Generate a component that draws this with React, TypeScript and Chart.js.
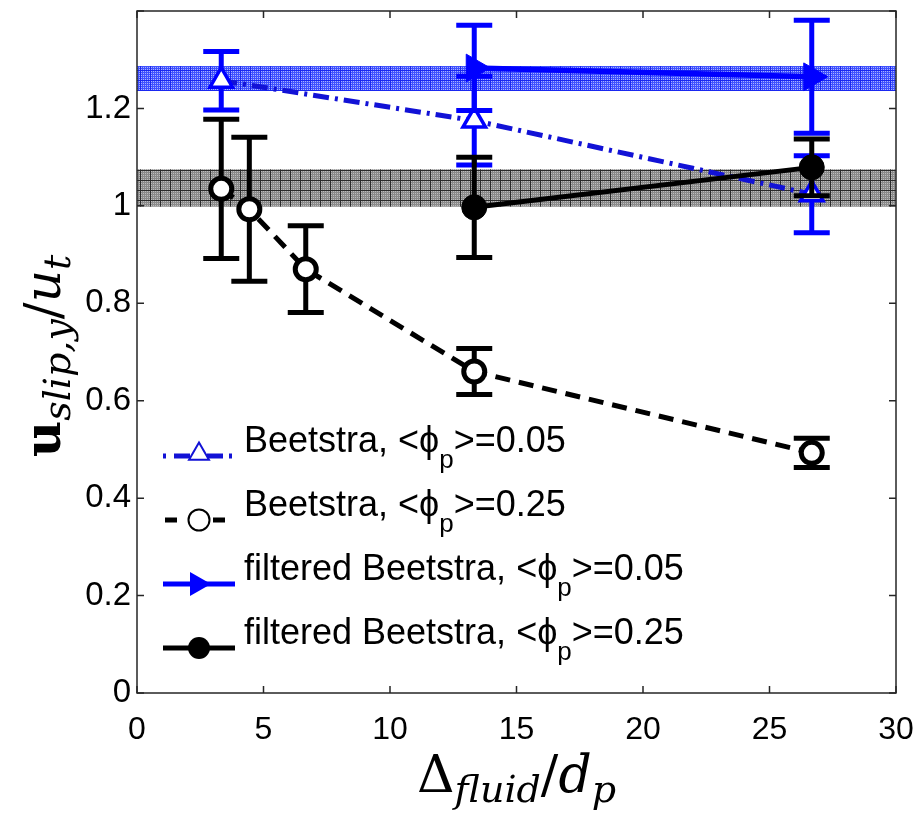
import React, { useEffect, useRef } from 'react';
import { Chart, registerables } from 'chart.js';

Chart.register(...registerables);

// ---- data ----
const xTicks = [0, 5, 10, 15, 20, 25, 30];
const yTicks = [0, 0.2, 0.4, 0.6, 0.8, 1, 1.2, 1.4];

const xB05 = [3.33, 13.33, 26.67];
const yB05 = [1.257, 1.175, 1.024];
const eB05 = [0.06, 0.091, 0.079];

const xB25 = [3.33, 4.44, 6.67, 13.33, 26.67];
const yB25 = [1.035, 0.993, 0.87, 0.66, 0.493];
const eB25 = [0.143, 0.148, 0.089, 0.047, 0.03];

const xF05 = [13.33, 26.67];
const yF05 = [1.283, 1.265];
const eF05 = [0.0875, 0.116];

const xF25 = [13.33, 26.67];
const yF25 = [0.997, 1.079];
const eF25 = [0.103, 0.058];

const bandX = [0, 30];
const blueBand = [1.236, 1.287];
const grayBand = [0.998, 1.075];

const legendNames = ['Beetstra', 'Beetstra', 'filtered Beetstra', 'filtered Beetstra'];
const legendPhi = ['0.05', '0.25', '0.05', '0.25'];

// ---- styles ----
const SANS = '"Liberation Sans", Arial, Helvetica, sans-serif';
const SERIF = '"DejaVu Serif", "Liberation Serif", serif';
const BLUE = '#0000ff';
const BLUE_DD = '#1212d6';

function makePattern(ctx: CanvasRenderingContext2D, base: string, dot: string, line: string) {
  const c = document.createElement('canvas');
  c.width = 10;
  c.height = 10;
  const g = c.getContext('2d')!;
  g.fillStyle = base;
  g.fillRect(0, 0, 10, 10);
  g.fillStyle = dot;
  for (let i = 1; i < 10; i += 2) for (let j = 1; j < 10; j += 2) g.fillRect(i, j, 1, 1);
  g.fillStyle = line;
  g.fillRect(0, 0, 10, 1);
  g.fillRect(0, 0, 1, 10);
  return ctx.createPattern(c, 'repeat') as CanvasPattern;
}

function pts(xs: number[], ys: number[]) {
  return xs.map((x, i) => ({ x, y: ys[i] }));
}

function triangle(ctx: CanvasRenderingContext2D, x: number, y: number, r: number, rotDeg: number) {
  let rad = (rotDeg * Math.PI) / 180;
  ctx.beginPath();
  ctx.moveTo(x + Math.sin(rad) * r, y - Math.cos(rad) * r);
  rad += (2 * Math.PI) / 3;
  ctx.lineTo(x + Math.sin(rad) * r, y - Math.cos(rad) * r);
  rad += (2 * Math.PI) / 3;
  ctx.lineTo(x + Math.sin(rad) * r, y - Math.cos(rad) * r);
  ctx.closePath();
}

type Part = { t: string; font: string; dy: number };
function drawParts(ctx: CanvasRenderingContext2D, parts: Part[], x: number, y: number, center: boolean) {
  let total = 0;
  const widths = parts.map((p) => {
    ctx.font = p.font;
    const w = ctx.measureText(p.t).width;
    total += w;
    return w;
  });
  let cx = center ? x - total / 2 : x;
  parts.forEach((p, i) => {
    ctx.font = p.font;
    ctx.fillText(p.t, cx, y + p.dy);
    cx += widths[i];
  });
}

const errorBarPlugin = {
  id: 'errbars',
  beforeDatasetDraw(chart: any, args: any) {
    const ds = chart.data.datasets[args.index];
    if (!ds.errors) return;
    const { ctx } = chart;
    const xs = chart.scales.x;
    const ys = chart.scales.y;
    ctx.save();
    ctx.strokeStyle = ds.errColor;
    ctx.lineWidth = 5;
    ctx.setLineDash([]);
    ds.data.forEach((p: any, i: number) => {
      const e = ds.errors[i];
      const px = xs.getPixelForValue(p.x);
      const top = ys.getPixelForValue(p.y + e);
      const bot = ys.getPixelForValue(p.y - e);
      ctx.beginPath();
      ctx.moveTo(px, top);
      ctx.lineTo(px, bot);
      ctx.moveTo(px - 18, top);
      ctx.lineTo(px + 18, top);
      ctx.moveTo(px - 18, bot);
      ctx.lineTo(px + 18, bot);
      ctx.stroke();
    });
    ctx.restore();
  },
};

const framePlugin = {
  id: 'frame',
  afterDatasetsDraw(chart: any) {
    const { ctx, chartArea: a } = chart;
    const xs = chart.scales.x;
    const ys = chart.scales.y;
    ctx.save();
    ctx.strokeStyle = '#262626';
    ctx.lineWidth = 1.5;
    ctx.setLineDash([]);
    ctx.strokeRect(a.left, a.top, a.right - a.left, a.bottom - a.top);
    ctx.beginPath();
    const L = 7;
    xTicks.forEach((v) => {
      const px = xs.getPixelForValue(v);
      ctx.moveTo(px, a.bottom);
      ctx.lineTo(px, a.bottom - L);
      ctx.moveTo(px, a.top);
      ctx.lineTo(px, a.top + L);
    });
    yTicks.forEach((v) => {
      const py = ys.getPixelForValue(v);
      ctx.moveTo(a.left, py);
      ctx.lineTo(a.left + L, py);
      ctx.moveTo(a.right, py);
      ctx.lineTo(a.right - L, py);
    });
    ctx.stroke();
    ctx.restore();
  },
};

const legendPlugin = {
  id: 'customLegend',
  afterDraw(chart: any) {
    const { ctx, chartArea: a } = chart;
    ctx.save();
    const x0 = a.left + 26;
    const x1 = a.left + 98;
    const xm = a.left + 62;
    const tx = a.left + 107;
    for (let i = 0; i < 4; i++) {
      const y = a.bottom - 237 + i * 64;
      ctx.lineWidth = 5;
      ctx.beginPath();
      if (i === 0) {
        ctx.strokeStyle = BLUE_DD;
        ctx.setLineDash([3, 8, 16, 6]);
        ctx.lineDashOffset = 0;
      } else if (i === 1) {
        ctx.strokeStyle = '#000';
        ctx.setLineDash([12, 12]);
        ctx.lineDashOffset = -2;
      } else {
        ctx.strokeStyle = i === 2 ? BLUE : '#000';
        ctx.setLineDash([]);
      }
      ctx.moveTo(x0, y);
      ctx.lineTo(x1, y);
      ctx.stroke();
      ctx.setLineDash([]);
      if (i === 0) {
        triangle(ctx, xm, y - 2, 11.5, 0);
        ctx.fillStyle = '#fff';
        ctx.fill();
        ctx.lineWidth = 2;
        ctx.strokeStyle = BLUE_DD;
        ctx.stroke();
      } else if (i === 1) {
        ctx.beginPath();
        ctx.arc(xm, y, 10.5, 0, Math.PI * 2);
        ctx.fillStyle = '#fff';
        ctx.fill();
        ctx.lineWidth = 2;
        ctx.strokeStyle = '#000';
        ctx.stroke();
      } else if (i === 2) {
        triangle(ctx, xm - 2, y, 14, 90);
        ctx.fillStyle = BLUE;
        ctx.fill();
      } else {
        ctx.beginPath();
        ctx.arc(xm, y, 11, 0, Math.PI * 2);
        ctx.fillStyle = '#000';
        ctx.fill();
      }
      ctx.fillStyle = '#000';
      ctx.textBaseline = 'alphabetic';
      ctx.textAlign = 'left';
      drawParts(
        ctx,
        [
          { t: legendNames[i] + ', <\u03D5', font: `36px ${SANS}`, dy: 0 },
          { t: 'p', font: `26px ${SANS}`, dy: 16 },
          { t: '>=' + legendPhi[i], font: `36px ${SANS}`, dy: 0 },
        ],
        tx,
        y - 4,
        false
      );
    }
    ctx.restore();
  },
};

const titlePlugin = {
  id: 'titles',
  afterDraw(chart: any) {
    const { ctx, chartArea: a } = chart;
    ctx.save();
    ctx.fillStyle = '#000';
    ctx.textBaseline = 'alphabetic';
    ctx.textAlign = 'left';
    drawParts(
      ctx,
      [
        { t: '\u0394', font: `52px ${SERIF}`, dy: 0 },
        { t: 'fluid', font: `italic 38px ${SERIF}`, dy: 10 },
        { t: '/', font: `52px ${SERIF}`, dy: 0 },
        { t: 'd', font: `italic 52px ${SERIF}`, dy: 0 },
        { t: 'p', font: `italic 38px ${SERIF}`, dy: 10 },
      ],
      (a.left + a.right) / 2,
      a.bottom + 99,
      true
    );
    ctx.translate(60, (a.top + a.bottom) / 2 + 4);
    ctx.rotate(-Math.PI / 2);
    drawParts(
      ctx,
      [
        { t: 'u', font: `bold 50px ${SERIF}`, dy: 0 },
        { t: 'slip,y', font: `italic 38px ${SERIF}`, dy: 10 },
        { t: '/', font: `50px ${SERIF}`, dy: 0 },
        { t: 'u', font: `italic 50px ${SERIF}`, dy: 0 },
        { t: 't', font: `italic 38px ${SERIF}`, dy: 10 },
      ],
      0,
      0,
      true
    );
    ctx.restore();
  },
};

export default function App() {
  const ref = useRef<HTMLCanvasElement>(null);
  useEffect(() => {
    const canvas = ref.current!;
    const ctx = canvas.getContext('2d')!;
    const bluePat = makePattern(ctx, '#3f52ff', '#aab2ff', '#1a28f0');
    const grayPat = makePattern(ctx, '#8a8a8a', '#bdbdbd', '#2a2a2a');
    const chart = new Chart(ctx, {
      type: 'line',
      data: {
        datasets: [
          {
            label: 'filtered Beetstra 0.25',
            data: pts(xF25, yF25),
            errors: eF25,
            errColor: '#000',
            borderColor: '#000',
            borderWidth: 5,
            pointStyle: 'circle',
            pointRadius: 12.5,
            pointBackgroundColor: '#000',
            pointBorderColor: '#000',
            pointBorderWidth: 1,
            fill: false,
          },
          {
            label: 'filtered Beetstra 0.05',
            data: pts(xF05, yF05),
            errors: eF05,
            errColor: BLUE,
            borderColor: BLUE,
            borderWidth: 5.5,
            pointStyle: 'triangle',
            rotation: 90,
            pointRadius: 16,
            pointBackgroundColor: BLUE,
            pointBorderColor: BLUE,
            pointBorderWidth: 1,
            fill: false,
          },
          {
            label: 'Beetstra 0.25',
            data: pts(xB25, yB25),
            errors: eB25,
            errColor: '#000',
            borderColor: '#000',
            borderWidth: 5,
            borderDash: [15, 9],
            pointStyle: 'circle',
            pointRadius: 10.5,
            pointBackgroundColor: '#fff',
            pointBorderColor: '#000',
            pointBorderWidth: 5,
            fill: false,
          },
          {
            label: 'Beetstra 0.05',
            data: pts(xB05, yB05),
            errors: eB05,
            errColor: BLUE,
            borderColor: BLUE_DD,
            borderWidth: 5,
            borderDash: [16, 6, 3, 6],
            pointStyle: 'triangle',
            pointRadius: 13,
            pointBackgroundColor: '#fff',
            pointBorderColor: BLUE,
            pointBorderWidth: 3.5,
            fill: false,
          },
          {
            label: 'blue band hi',
            data: pts(bandX, [blueBand[1], blueBand[1]]),
            borderColor: 'rgba(0,0,0,0)',
            borderWidth: 0,
            pointRadius: 0,
            backgroundColor: bluePat,
            fill: '+1',
          },
          {
            label: 'blue band lo',
            data: pts(bandX, [blueBand[0], blueBand[0]]),
            borderColor: 'rgba(0,0,0,0)',
            borderWidth: 0,
            pointRadius: 0,
            fill: false,
          },
          {
            label: 'gray band hi',
            data: pts(bandX, [grayBand[1], grayBand[1]]),
            borderColor: 'rgba(0,0,0,0)',
            borderWidth: 0,
            pointRadius: 0,
            backgroundColor: grayPat,
            fill: '+1',
          },
          {
            label: 'gray band lo',
            data: pts(bandX, [grayBand[0], grayBand[0]]),
            borderColor: 'rgba(0,0,0,0)',
            borderWidth: 0,
            pointRadius: 0,
            fill: false,
          },
        ] as any,
      },
      options: {
        responsive: false,
        maintainAspectRatio: false,
        animation: false,
        layout: { autoPadding: false, padding: { top: 11, right: 24, left: 0, bottom: 0 } },
        elements: { line: { tension: 0 } },
        plugins: { legend: { display: false }, tooltip: { enabled: false } },
        scales: {
          x: {
            type: 'linear',
            min: 0,
            max: 30,
            afterBuildTicks: (s: any) => {
              s.ticks = xTicks.map((v) => ({ value: v }));
            },
            afterFit: (s: any) => {
              s.height = 123;
              s.paddingLeft = 0;
              s.paddingRight = 0;
            },
            grid: { display: false, drawTicks: false },
            border: { display: false },
            ticks: {
              autoSkip: false,
              maxRotation: 0,
              padding: 18,
              color: '#000',
              font: { family: SANS, size: 32 },
              callback: (v: any) => String(v),
            },
          },
          y: {
            type: 'linear',
            min: 0,
            max: 1.4,
            afterBuildTicks: (s: any) => {
              s.ticks = yTicks.map((v) => ({ value: v }));
            },
            afterFit: (s: any) => {
              s.width = 137;
              s.paddingTop = 0;
              s.paddingBottom = 0;
            },
            grid: { display: false, drawTicks: false },
            border: { display: false },
            ticks: {
              autoSkip: false,
              padding: 6,
              color: '#000',
              font: { family: SANS, size: 33, lineHeight: 0.2 },
              callback: (v: any) => (v > 1.35 ? '' : String(Math.round(v * 10) / 10)),
            },
          },
        },
      } as any,
      plugins: [errorBarPlugin, framePlugin, legendPlugin, titlePlugin],
    });
    return () => chart.destroy();
  }, []);
  return (
    <div style={{ position: 'absolute', left: 0, top: 0, width: 920, height: 816, background: '#fff' }}>
      <canvas ref={ref} width={920} height={816} style={{ width: 920, height: 816, display: 'block' }} />
    </div>
  );
}
